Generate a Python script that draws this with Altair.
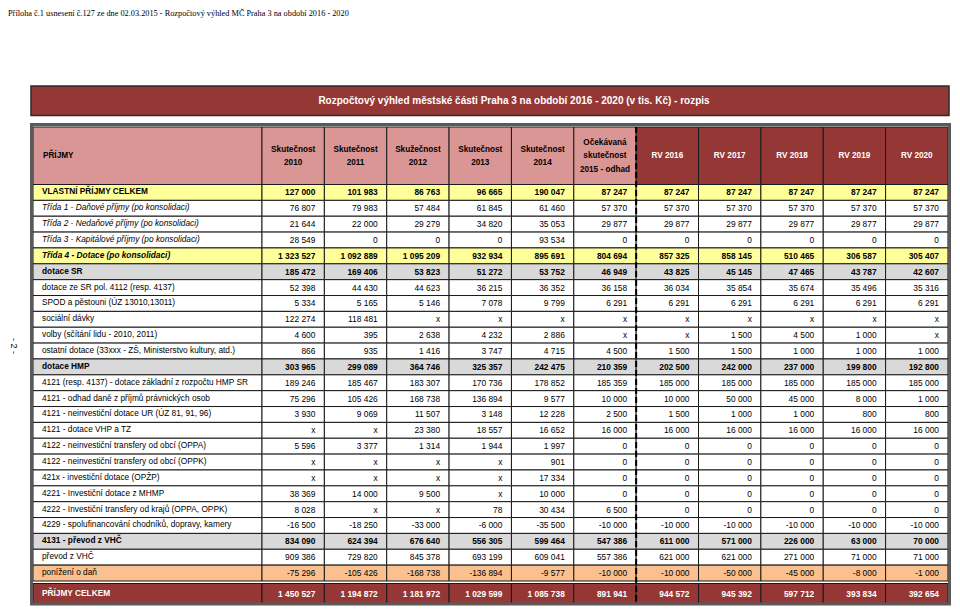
import altair as alt
import pandas as pd

# ---------------- texts ----------------
note_text = "Příloha č.1 usnesení č.127 ze dne 02.03.2015 - Rozpočtový výhled MČ Praha 3 na období 2016 - 2020"
title_text = "Rozpočtový výhled městské části Praha 3 na období 2016 - 2020 (v tis. Kč) - rozpis"
page_label = "- 2 -"
corner_header = "PŘÍJMY"
column_headers = [
    "Skutečnost\n2010", "Skutečnost\n2011", "Skužečnost\n2012", "Skutečnost\n2013",
    "Skutečnost\n2014", "Očekávaná\nskutečnost\n2015 - odhad",
    "RV 2016", "RV 2017", "RV 2018", "RV 2019", "RV 2020",
]
forecast_from = 6  # index of first "RV" column

# ---------------- row labels and row styles ----------------
row_labels = [
    "VLASTNÍ PŘÍJMY CELKEM",
    "Třída 1 - Daňové příjmy (po konsolidaci)",
    "Třída 2 - Nedaňové příjmy (po konsolidaci)",
    "Třída 3 - Kapitálové příjmy (po konsolidaci)",
    "Třída 4 - Dotace (po konsolidaci)",
    "dotace SR",
    "dotace ze SR  pol. 4112 (resp. 4137)",
    "SPOD a pěstouni (ÚZ 13010,13011)",
    "sociální dávky",
    "volby (sčítání lidu - 2010, 2011)",
    "ostatní dotace (33xxx - ZŠ, Ministerstvo kultury, atd.)",
    "dotace HMP",
    "4121 (resp. 4137) - dotace základní z rozpočtu HMP SR",
    "4121 - odhad daně z příjmů právnických osob",
    "4121 - neinvestiční dotace UR (ÚZ 81, 91, 96)",
    "4121 - dotace  VHP a TZ",
    "4122 - neinvestiční transfery od obcí (OPPA)",
    "4122 - neinvestiční transfery od obcí (OPPK)",
    "421x - investiční dotace (OPŽP)",
    "4221 - Investiční dotace z MHMP",
    "4222 - Investiční transfery od krajů (OPPA, OPPK)",
    "4229 - spolufinancování chodníků, dopravy, kamery",
    "4131 - převod z VHČ",
    "převod z VHČ",
    "ponížení o daň",
    "PŘÍJMY CELKEM",
]
row_styles = [
    "own_total", "class", "class", "class", "class_total", "group", "item", "item",
    "item", "item", "item", "group", "item", "item", "item", "item", "item", "item",
    "item", "item", "item", "item", "group", "item", "minus", "grand",
]

# ---------------- values (tis. Kč); None = "x" ----------------
X = None
r_vlastni = [127000, 101983, 86763, 96665, 190047, 87247, 87247, 87247, 87247, 87247, 87247]
r_trida1 = [76807, 79983, 57484, 61845, 61460, 57370, 57370, 57370, 57370, 57370, 57370]
r_trida2 = [21644, 22000, 29279, 34820, 35053, 29877, 29877, 29877, 29877, 29877, 29877]
r_trida3 = [28549, 0, 0, 0, 93534, 0, 0, 0, 0, 0, 0]
r_trida4 = [1323527, 1092889, 1095209, 932934, 895691, 804694, 857325, 858145, 510465, 306587, 305407]
r_dotace_sr = [185472, 169406, 53823, 51272, 53752, 46949, 43825, 45145, 47465, 43787, 42607]
r_pol4112 = [52398, 44430, 44623, 36215, 36352, 36158, 36034, 35854, 35674, 35496, 35316]
r_spod = [5334, 5165, 5146, 7078, 9799, 6291, 6291, 6291, 6291, 6291, 6291]
r_davky = [122274, 118481, X, X, X, X, X, X, X, X, X]
r_volby = [4600, 395, 2638, 4232, 2886, X, X, 1500, 4500, 1000, X]
r_ostatni = [866, 935, 1416, 3747, 4715, 4500, 1500, 1500, 1000, 1000, 1000]
r_dotace_hmp = [303965, 299089, 364746, 325357, 242475, 210359, 202500, 242000, 237000, 199800, 192800]
r_4121_zakl = [189246, 185467, 183307, 170736, 178852, 185359, 185000, 185000, 185000, 185000, 185000]
r_4121_dan = [75296, 105426, 168738, 136894, 9577, 10000, 10000, 50000, 45000, 8000, 1000]
r_4121_ur = [3930, 9069, 11507, 3148, 12228, 2500, 1500, 1000, 1000, 800, 800]
r_4121_vhp = [X, X, 23380, 18557, 16652, 16000, 16000, 16000, 16000, 16000, 16000]
r_4122_oppa = [5596, 3377, 1314, 1944, 1997, 0, 0, 0, 0, 0, 0]
r_4122_oppk = [X, X, X, X, 901, 0, 0, 0, 0, 0, 0]
r_421x = [X, X, X, X, 17334, 0, 0, 0, 0, 0, 0]
r_4221 = [38369, 14000, 9500, X, 10000, 0, 0, 0, 0, 0, 0]
r_4222 = [8028, X, X, 78, 30434, 6500, 0, 0, 0, 0, 0]
r_4229 = [-16500, -18250, -33000, -6000, -35500, -10000, -10000, -10000, -10000, -10000, -10000]
r_4131 = [834090, 624394, 676640, 556305, 599464, 547386, 611000, 571000, 226000, 63000, 70000]
r_prevod = [909386, 729820, 845378, 693199, 609041, 557386, 621000, 621000, 271000, 71000, 71000]
r_ponizeni = [-75296, -105426, -168738, -136894, -9577, -10000, -10000, -50000, -45000, -8000, -1000]
r_celkem = [1450527, 1194872, 1181972, 1029599, 1085738, 891941, 944572, 945392, 597712, 393834, 392654]

row_values = [
    r_vlastni, r_trida1, r_trida2, r_trida3, r_trida4, r_dotace_sr, r_pol4112, r_spod,
    r_davky, r_volby, r_ostatni, r_dotace_hmp, r_4121_zakl, r_4121_dan, r_4121_ur,
    r_4121_vhp, r_4122_oppa, r_4122_oppk, r_421x, r_4221, r_4222, r_4229, r_4131,
    r_prevod, r_ponizeni, r_celkem,
]

# ---------------- styling ----------------
DARK_RED = "#953735"
PINK = "#D99694"
YELLOW = "#FFFF99"
GREY = "#D9D9D9"
ORANGE = "#FAC090"
FONT = "Liberation Sans"

style_fill = {"own_total": YELLOW, "class": "#FFFFFF", "class_total": YELLOW, "group": GREY,
              "item": "#FFFFFF", "minus": ORANGE, "grand": DARK_RED}
style_weight = {"own_total": "bold", "class": "normal", "class_total": "bold", "group": "bold",
                "item": "normal", "minus": "normal", "grand": "bold"}
style_italic = {"own_total": "normal", "class": "italic", "class_total": "italic", "group": "normal",
                "item": "normal", "minus": "normal", "grand": "normal"}
style_color = {k: ("#FFFFFF" if k == "grand" else "#000000") for k in style_fill}

# ---------------- layout ----------------
W, H = 944, 598
LEFT = 25.0
LABEL_W = 229.0
COL_W = 62.36
edges = [LEFT, LEFT + LABEL_W] + [LEFT + LABEL_W + COL_W * (k + 1) for k in range(len(column_headers))]
HEAD_TOP, HEAD_BOT = 119.0, 176.5
ROW_H = 15.86
GRAND_TOP, GRAND_BOT = 575.5, 595.5
HEAD_LH = 13.5


def fmt(v):
    if v is None:
        return "x"
    s = f"{abs(v):,}".replace(",", " ")
    return ("-" if v < 0 else "") + s


cells, texts = [], []
head_mid = (HEAD_TOP + HEAD_BOT) / 2 + 0.5
# header
cells.append(dict(x=edges[0], x2=edges[1], y=HEAD_TOP, y2=HEAD_BOT, fill=PINK))
texts.append(dict(x=edges[0] + 10, y=head_mid, text=corner_header, color="#000000",
                  weight="bold", style="normal", align="left", size=8.2))
for j, h in enumerate(column_headers):
    fc = DARK_RED if j >= forecast_from else PINK
    n_lines = h.count("\n") + 1
    cells.append(dict(x=edges[j + 1], x2=edges[j + 2], y=HEAD_TOP, y2=HEAD_BOT, fill=fc))
    texts.append(dict(x=(edges[j + 1] + edges[j + 2]) / 2, y=head_mid - (n_lines - 1) * HEAD_LH / 2,
                      text=h, color="#FFFFFF" if j >= forecast_from else "#000000",
                      weight="bold", style="normal", align="center", size=8.2))
# body
for i, (lab, st, vals) in enumerate(zip(row_labels, row_styles, row_values)):
    if st == "grand":
        y0, y1 = GRAND_TOP, GRAND_BOT
    else:
        y0, y1 = HEAD_BOT + i * ROW_H, HEAD_BOT + (i + 1) * ROW_H
    yc = (y0 + y1) / 2
    cells.append(dict(x=edges[0], x2=edges[1], y=y0, y2=y1, fill=style_fill[st]))
    texts.append(dict(x=edges[0] + 9, y=yc, text=lab, color=style_color[st], weight=style_weight[st],
                      style=style_italic[st], align="left", size=8.3))
    for j, v in enumerate(vals):
        cells.append(dict(x=edges[j + 1], x2=edges[j + 2], y=y0, y2=y1, fill=style_fill[st]))
        texts.append(dict(x=edges[j + 2] - 9, y=yc, text=fmt(v), color=style_color[st],
                          weight=style_weight[st], style="normal", align="right", size=8.4))

cells_df = pd.DataFrame(cells)
texts_df = pd.DataFrame(texts)

xs = alt.Scale(domain=[0, W], nice=False, zero=False)
ys = alt.Scale(domain=[0, H], nice=False, zero=False, reverse=True)


def enc_rect(ch):
    return ch.encode(
        x=alt.X("x:Q", scale=xs, axis=None), x2="x2:Q",
        y=alt.Y("y:Q", scale=ys, axis=None), y2="y2:Q",
    )


title_df = pd.DataFrame([dict(x=23.0, x2=941.0, y=78.0, y2=107.5, text=title_text, tx=506.0, ty=93.0)])
frame_df = pd.DataFrame([dict(x=23.5, x2=941.5, y=116.5, y2=596.0)])
dash_df = pd.DataFrame([dict(x=edges[1 + forecast_from], y=HEAD_TOP, y2=GRAND_BOT)])
note_df = pd.DataFrame([dict(x=0.0, y=0.5, text=note_text)])
page_df = pd.DataFrame([dict(x=6.0, y=338.0, text=page_label)])

title_bar = enc_rect(alt.Chart(title_df).mark_rect(fill=DARK_RED, stroke="#2b2b2b", strokeWidth=1.5))
title_txt = alt.Chart(title_df).mark_text(font=FONT, fontSize=10, fontWeight="bold", color="#FFFFFF",
                                          baseline="middle", align="center").encode(
    x=alt.X("tx:Q", scale=xs, axis=None), y=alt.Y("ty:Q", scale=ys, axis=None), text="text:N")

cell_layer = enc_rect(alt.Chart(cells_df).mark_rect(stroke="#1a1a1a", strokeWidth=1)).encode(
    fill=alt.Fill("fill:N", scale=None))
frame_layer = enc_rect(alt.Chart(frame_df).mark_rect(fill="#FFFFFF", fillOpacity=0, stroke="#5a5a5a",
                                                     strokeWidth=3))
dash_layer = alt.Chart(dash_df).mark_rule(color="#000000", strokeWidth=2, strokeDash=[6, 3]).encode(
    x=alt.X("x:Q", scale=xs, axis=None), y=alt.Y("y:Q", scale=ys, axis=None), y2="y2:Q")

note_layer = alt.Chart(note_df).mark_text(font="Liberation Serif", fontSize=8.3, align="left",
                                          baseline="top", color="#000000").encode(
    x=alt.X("x:Q", scale=xs, axis=None), y=alt.Y("y:Q", scale=ys, axis=None), text="text:N")
page_layer = alt.Chart(page_df).mark_text(font=FONT, fontSize=9, align="center", baseline="middle",
                                          angle=90, color="#000000").encode(
    x=alt.X("x:Q", scale=xs, axis=None), y=alt.Y("y:Q", scale=ys, axis=None), text="text:N")

text_layers = []
for (w, s, a, sz), g in texts_df.groupby(["weight", "style", "align", "size"]):
    text_layers.append(
        alt.Chart(g.reset_index(drop=True)).mark_text(
            font=FONT, fontSize=float(sz), fontWeight=w, fontStyle=s, align=a, baseline="middle",
            lineBreak="\n", lineHeight=HEAD_LH,
        ).encode(
            x=alt.X("x:Q", scale=xs, axis=None), y=alt.Y("y:Q", scale=ys, axis=None),
            text="text:N", color=alt.Color("color:N", scale=None),
        )
    )

chart = alt.layer(
    title_bar, title_txt, cell_layer, frame_layer, dash_layer, note_layer, page_layer, *text_layers
).properties(
    width=W, height=H, padding=0, autosize=alt.AutoSizeParams(type="none")
).configure_view(stroke=None)

chart.save("out.html", embed_options={"renderer": "svg", "actions": False})
